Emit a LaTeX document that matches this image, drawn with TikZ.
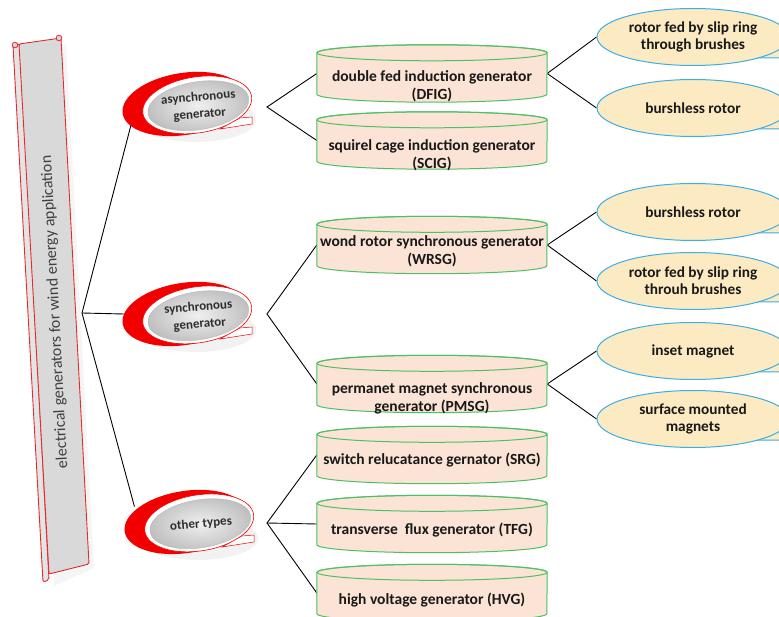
\documentclass[tikz,border=0pt]{standalone}
\usepackage{fontspec}
\setmainfont{Carlito}
\usetikzlibrary{calc,shapes.geometric}
\definecolor{peach}{HTML}{FBE4D5}
\definecolor{cylgreen}{HTML}{4EC064}
\definecolor{cream}{HTML}{FCEBC2}
\definecolor{skyb}{HTML}{3BAEE4}
\definecolor{scrollred}{HTML}{E52A2E}
\definecolor{scrollgray}{HTML}{D9D9D9}
\definecolor{blobred}{HTML}{F20000}
\tikzset{
 conn/.style={draw=black, line width=0.9pt},
 cylbox/.style={rectangle, minimum width=230pt, minimum height=57pt, inner sep=0pt},
 cyltext/.style={font=\fontsize{15.5}{18}\selectfont\bfseries, align=center, text=black!90},
 callout/.style={ellipse, minimum width=192pt, minimum height=57pt, inner sep=0pt, fill=cream, draw=skyb, line width=1pt, font=\fontsize{15.3}{17}\selectfont\bfseries, align=center, text=black!90},
 blobnode/.style={ellipse, minimum width=132pt, minimum height=62pt, inner sep=0pt},
 blobtext/.style={font=\fontsize{13}{17}\selectfont\bfseries, align=center, text=black!82, rotate=5, inner sep=1pt},
 scrolltextstyle/.style={font=\fontsize{16}{18}\selectfont, text=black!75, rotate=93},
}
\newcommand{\blobshape}[4]{%
 \begin{scope}[shift={(#2,#3)}]
   \fill[black, opacity=0.05] (6,16) ellipse[x radius=60pt, y radius=22pt];
   \begin{scope}[rotate=9]
     \fill[blobred] (-6,-1) ellipse[x radius=62pt, y radius=31pt];
     \filldraw[fill=white, draw=blobred, line width=0.6pt] (7,2) ellipse[x radius=55pt, y radius=28pt];
   \end{scope}
   \filldraw[fill=white, draw=blobred, line width=0.5pt] (30,25) -- (62,20) -- (62,13) -- (50,14) -- cycle;
   \begin{scope}[rotate=9]
     \shadedraw[inner color=gray!12, outer color=gray!50, draw=gray!55, line width=0.4pt] (8,3) ellipse[x radius=51pt, y radius=24pt];
   \end{scope}
 \end{scope}
 \node[blobnode] (#1) at (#2,#3) {};
 \node[blobtext] (#1-t) at ({#2+9},{#3+2}) {#4};
}
\newcommand{\cylshape}[5]{%
 \node[cylbox] (#1) at (#2,#3) {};
 \filldraw[fill=peach, draw=cylgreen, line width=1pt] ($(#1.north west)+(0pt,-8pt)$) -- ($(#1.south west)+(0pt,8pt)$) arc[start angle=180, end angle=360, x radius=115pt, y radius=8pt] -- ($(#1.north east)+(0pt,-8pt)$) arc[start angle=0, end angle=180, x radius=115pt, y radius=8pt] -- cycle;
 \draw[cylgreen, line width=1pt] ($(#1.north)+(0pt,-8pt)$) ellipse[x radius=115pt, y radius=8pt];
 \node[cyltext] (#1-t) at (#2,#5) {#4};
}
\newcommand{\calloutshape}[4]{%
 \filldraw[fill=cream, draw=skyb, line width=1pt] ({#2+62},{#3+21}) -- ({#2+115},{#3+21}) -- ({#2+93},{#3+6}) -- cycle;
 \node[callout] (#1) at (#2,#3) {#4};
}
\begin{document}
\begin{tikzpicture}[x=1pt,y=-1pt]
\useasboundingbox (0,0) rectangle (779,617);
\clip (0,0) rectangle (779,617);
\fill[white] (0,0) rectangle (779,617);

% scroll
\fill[black, opacity=0.04] (26,50) -- (66,44) -- (94,568) -- (54,586) -- cycle;
\filldraw[fill=scrollgray!70!white, draw=scrollred, line width=0.9pt, rounded corners=2pt] (13,45) -- (20,44) -- (49,580) -- (43,582) -- cycle;
\filldraw[fill=scrollgray, draw=scrollred, line width=0.9pt, rounded corners=1.5pt] (19,44) -- (61,38) -- (89,564) -- (49,574) -- cycle;
\filldraw[fill=scrollgray, draw=scrollred, line width=0.8pt] (15,45) circle[radius=2.8pt];
\filldraw[fill=scrollgray, draw=scrollred, line width=0.8pt] (59,38) circle[radius=2.8pt];
\node[scrolltextstyle] (title) at (55,312) {electrical generators for wind energy application};

% coordinates for branch vertices
\coordinate (sv) at (82,313);
\coordinate (av) at (267,107);
\coordinate (syv) at (267,314);
\coordinate (ov) at (267,523);

% blob nodes (invisible) for connector anchors
\node[blobnode] (async) at (190,104) {};
\node[blobnode] (sync) at (190,314) {};
\node[blobnode] (other) at (192,522) {};

\node[cylbox] (dfig) at (432,73.5) {};
\node[cylbox] (scig) at (432,140.5) {};
\node[cylbox] (wrsg) at (432,245) {};
\node[cylbox] (pmsg) at (432,384) {};
\node[cylbox] (srg) at (432,455) {};
\node[cylbox] (tfg) at (432,524) {};
\node[cylbox] (hvg) at (432,593) {};

\node[callout, draw=none, fill=none] (c1) at (693,37) {};
\node[callout, draw=none, fill=none] (c2) at (693,108) {};
\node[callout, draw=none, fill=none] (c3) at (693,212) {};
\node[callout, draw=none, fill=none] (c4) at (693,281) {};
\node[callout, draw=none, fill=none] (c5) at (693,351) {};
\node[callout, draw=none, fill=none] (c6) at (693,419) {};

% connectors
\draw[conn] (sv) -- (async.195);
\draw[conn] (sv) -- (sync.west);
\draw[conn] (sv) -- (other.165);
\draw[conn] (dfig.west) -- (av) -- (scig.west);
\draw[conn] (wrsg.west) -- (syv) -- (pmsg.west);
\draw[conn] (srg.west) -- (ov) -- (hvg.west);
\draw[conn] (ov) -- (tfg.west);
\draw[conn] (c1.west) -- (dfig.east) -- (c2.west);
\draw[conn] (c3.west) -- (wrsg.east) -- (c4.west);
\draw[conn] (c5.west) -- (pmsg.east) -- (c6.west);

% blobs
\blobshape{asyncb}{190}{104}{asynchronous\\generator}
\blobshape{syncb}{190}{314}{synchronous\\generator}
\blobshape{otherb}{192}{522}{other types}

% cylinders
\cylshape{dfigc}{432}{73.5}{double fed induction generator\\(DFIG)}{86}
\cylshape{scigc}{432}{140.5}{squirel cage induction generator\\(SCIG)}{155}
\cylshape{wrsgc}{432}{245}{wond rotor synchronous generator\\(WRSG)}{251}
\cylshape{pmsgc}{432}{384}{permanet magnet synchronous\\generator (PMSG)}{398}
\cylshape{srgc}{432}{455}{switch relucatance gernator (SRG)}{460}
\cylshape{tfgc}{432}{524}{transverse\ \ flux generator (TFG)}{530}
\cylshape{hvgc}{432}{593}{high voltage generator (HVG)}{600}

% callouts
\calloutshape{c1b}{693}{37}{rotor fed by slip ring\\through brushes}
\calloutshape{c2b}{693}{108}{burshless rotor}
\calloutshape{c3b}{693}{212}{burshless rotor}
\calloutshape{c4b}{693}{281}{rotor fed by slip ring\\throuh brushes}
\calloutshape{c5b}{693}{351}{inset magnet}
\calloutshape{c6b}{693}{419}{surface mounted\\magnets}
\end{tikzpicture}
\end{document}
